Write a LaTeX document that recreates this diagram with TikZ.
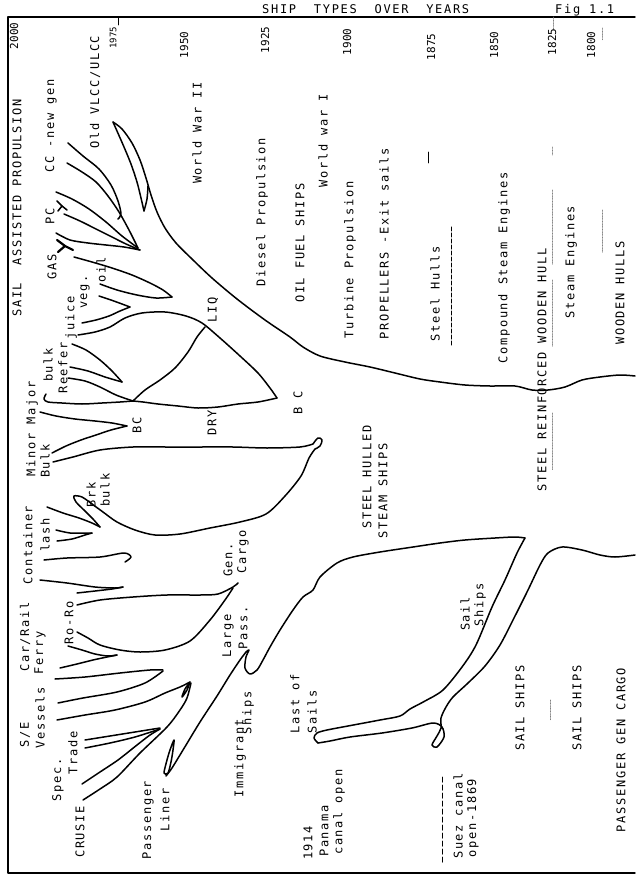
\documentclass[tikz,border=0pt]{standalone}
\usepackage{fontspec}
\newfontfamily\labfont[LetterSpace=14]{DejaVu Sans Mono}
\newfontfamily\yrfont{DejaVu Sans Mono}
\begin{document}
\begin{tikzpicture}[x=1pt,y=-1pt,line cap=round,line join=round,
  br/.style={line width=1.5pt},
  frame/.style={line width=1.4pt},
  lab/.style={rotate=90,inner sep=0pt,font=\labfont\fontsize{12}{13}\selectfont},
  yr/.style={rotate=90,inner sep=0pt,font=\yrfont\fontsize{11}{12}\selectfont},
  hdr/.style={inner sep=0pt,font=\labfont\fontsize{12}{13}\selectfont},
  faint/.style={gray,line width=0.6pt,densely dotted}]
\useasboundingbox (0,0) rectangle (635,877);
% frame
\draw[frame] (635,17) -- (8,17) -- (8,873) -- (635,873);
\node[hdr,anchor=base west] (title) at (262,14) {SHIP\ \ TYPES\ \ OVER\ \ YEARS};
\node[hdr,anchor=base west] (fig) at (555,14) {Fig 1.1};
\draw[line width=0.8pt] (118,17) -- (118,25);
% faint year guides
\draw[faint] (553,17) -- (553,30);
\draw[faint] (602,28) -- (602,40);
\draw[faint] (552,147) -- (552,155);
\draw[faint] (552,190) -- (552,265);
\draw[faint] (552,280) -- (552,347);
\draw[faint] (552,413) -- (552,470);
\draw[faint] (602,210) -- (602,253);
\draw[faint] (550,700) -- (550,720);
% years
\node[yr] (y2000) at (14,36) {2000};
\node[yr,font=\yrfont\fontsize{9}{10}\selectfont] (y1975) at (113,38) {1975};
\node[yr] (y1950) at (184,45) {1950};
\node[yr] (y1925) at (265,40) {1925};
\node[yr] (y1900) at (347,42) {1900};
\node[yr] (y1875) at (431,47) {1875};
\node[yr] (y1850) at (494,45) {1850};
\node[yr] (y1825) at (552,42) {1825};
\node[yr] (y1800) at (591,45) {1800};
% era labels
\node[lab] (sail) at (17,208) {SAIL\ \ ASSISTED PROPULSION};
\node[lab] (cc) at (51,126) {CC -new gen};
\node[lab] (pc) at (50,216) {PC};
\node[lab] (gas) at (52,267) {GAS};
\node[lab] (vlcc) at (95,92) {Old VLCC/ULCC};
\node[lab] (ww2) at (197,133) {World War II};
\node[lab] (diesel) at (262,212) {Diesel Propulsion};
\node[lab] (oil) at (300,243) {OIL FUEL SHIPS};
\node[lab] (ww1) at (323,141) {World war I};
\node[lab] (turb) at (350,260) {Turbine Propulsion};
\node[lab] (prop) at (384,244) {PROPELLERS -Exit sails};
\node[lab] (steelh) at (435,294) {Steel Hulls};
\node[lab] (comp) at (504,268) {Compound Steam Engines};
\node[lab] (srwh) at (542,370) {STEEL REINFORCED WOODEN HULL};
\node[lab] (steam) at (571,262) {Steam Engines};
\node[lab] (wood) at (620,293) {WOODEN HULLS};
\draw[line width=1pt,dash pattern=on 4pt off 2pt] (451,227) -- (451,345);
\draw[line width=0.9pt] (428,152) -- (428,163);
% branch labels
\node[lab] (veg) at (85,292) {veg.};
\node[lab] (oill) at (101,270) {oil};
\node[lab] (juice) at (71,318) {juice};
\node[lab] (reefer) at (63,368) {Reefer};
\node[lab] (majb) at (48,365) {bulk};
\node[lab] (minmaj) at (32,429) {Minor Major};
\node[lab] (minb) at (45,461) {Bulk};
\node[lab] (bc1) at (137,425) {BC};
\node[lab] (dry) at (212,423) {DRY};
\node[lab] (liq) at (213,310) {LIQ};
\node[lab] (bc2) at (298,403) {B C};
\node[lab] (shs1) at (367,477) {STEEL HULLED};
\node[lab] (shs2) at (383,491) {STEAM SHIPS};
\node[lab] (cont) at (28,545) {Container};
\node[lab] (lash) at (45,535) {lash};
\node[lab] (brk) at (91,495) {Brk};
\node[lab] (brkb) at (105,490) {bulk};
\node[lab] (gen) at (228,560) {Gen.};
\node[lab] (cargo) at (243,552) {Cargo};
\node[lab] (carrail) at (25,637) {Car/Rail};
\node[lab] (ferry) at (40,653) {Ferry};
\node[lab] (roro) at (69,623) {Ro-Ro};
\node[lab] (se) at (25,735) {S/E};
\node[lab] (vessels) at (40,718) {Vessels};
\node[lab] (spec) at (58,780) {Spec.};
\node[lab] (trade) at (73,753) {Trade};
\node[lab] (crusie) at (80,832) {CRUSIE};
\node[lab] (pass) at (148,820) {Passenger};
\node[lab] (liner) at (165,810) {Liner};
\node[lab] (large) at (228,636) {Large};
\node[lab] (passs) at (243,628) {Pass.};
\node[lab] (immi) at (240,758) {Immigrant};
\node[lab] (ships) at (248,713) {Ships};
\node[lab] (last) at (295,704) {Last of};
\node[lab] (sails) at (312,712) {Sails};
\node[lab] (y1914) at (308,843) {1914};
\node[lab] (panama) at (324,831) {Panama};
\node[lab] (canal) at (339,812) {canal open};
\node[lab] (suez) at (458,816) {Suez canal};
\node[lab] (open) at (473,818) {open-1869};
\draw[line width=1pt,dash pattern=on 5pt off 3pt] (442,777) -- (442,862);
\node[lab] (sailb1) at (465,614) {Sail};
\node[lab] (sailb2) at (480,605) {Ships};
\node[lab] (ss1) at (520,708) {SAIL SHIPS};
\node[lab] (ss2) at (577,708) {SAIL SHIPS};
\node[lab] (pgc) at (621,750) {PASSENGER GEN CARGO};
% ---------- tree ----------
\draw[br] plot[smooth,tension=0.5] coordinates {(635,376) (620,375) (600,377) (582,380) (565,387) (548,390) (532,390) (515,386) (490,386) (465,385) (440,382) (420,379) (395,373) (370,367) (345,362) (320,356) (303,347) (290,337) (265,320) (237,299) (212,278) (192,259) (176,243) (165,228) (157,212) (151,195) (146,178) (140,160) (132,143) (122,129) (113,122)};
\draw[br] plot[smooth,tension=0.5] coordinates {(113,122) (117,131) (124,147) (131,164) (137,182) (141,198) (144,211)};
\draw[br] plot[smooth,tension=0.5] coordinates {(144,211) (147,199) (148,186)};
\draw[br] plot[smooth,tension=0.5] coordinates {(68,143) (83,156) (99,169) (111,185) (118,201) (121,214) (118,219)};
\draw[br] plot[smooth,tension=0.5] coordinates {(67,163) (82,172) (96,182) (108,196) (119,212) (129,230) (138,248)};
\draw[br] plot[smooth,tension=0.5] coordinates {(56,192) (72,199) (89,209) (106,222) (122,236) (138,248)};
\draw[br] (57,201) -- (62,206) -- (58,211);
\draw[br] (62,206) -- (67,210);
\draw[br] plot[smooth,tension=0.5] coordinates {(64,214) (80,221) (96,229) (112,237) (126,244) (140,250)};
\draw[br] plot[smooth,tension=0.5] coordinates {(56,233) (70,240) (88,243) (106,245) (124,247) (140,250)};
\draw[br,line width=2.2pt] (57,240) -- (65,246) -- (58,252);
\draw[br,line width=2.2pt] (65,246) -- (73,250);
\draw[br] plot[smooth,tension=0.5] coordinates {(74,257) (92,262) (112,268) (132,275) (150,283) (163,290) (172,297)};
\draw[br] plot[smooth,tension=0.5] coordinates {(100,284) (117,290) (137,295) (156,298) (172,297)};
\draw[br] plot[smooth,tension=0.5] coordinates {(99,296) (111,300) (122,304) (130,307)};
\draw[br] plot[smooth,tension=0.5] coordinates {(82,323) (96,320) (109,316) (120,311) (130,307)};
\draw[br] plot[smooth,tension=0.5] coordinates {(78,335) (95,332) (110,327) (125,318) (142,313) (165,312) (186,316) (202,323) (220,338) (240,356) (258,373) (270,388) (277,398)};
\draw[br] plot[smooth,tension=0.5] coordinates {(277,398) (258,402) (238,404) (218,407) (198,408) (178,406) (158,404) (143,402) (133,401)};
\draw[br] plot[smooth,tension=0.5] coordinates {(133,401) (145,390) (160,380) (175,368) (188,352) (197,337) (205,327)};
\draw[br] plot[smooth,tension=0.5] coordinates {(68,378) (85,381) (100,387) (116,395) (133,401)};
\draw[br] plot[smooth,tension=0.5] coordinates {(46,394) (44,399) (48,402) (62,403) (82,404) (102,403) (120,402) (133,401)};
\draw[br] plot[smooth,tension=0.5] coordinates {(72,344) (86,350) (100,360) (112,371) (122,382)};
\draw[br] plot[smooth,tension=0.5] coordinates {(70,367) (88,371) (105,377) (122,382)};
\draw[br] plot[smooth,tension=0.5] coordinates {(40,412) (56,416) (75,419) (95,421) (112,423) (127,426)};
\draw[br] plot[smooth,tension=0.5] coordinates {(52,453) (66,446) (81,440) (96,435) (111,430) (127,426)};
\draw[br] plot[smooth,tension=0.5] coordinates {(53,462) (73,457) (100,450) (133,447) (166,447) (200,447) (233,447) (267,448) (300,447) (313,444)};
\draw[br] plot[smooth,tension=0.6] coordinates {(313,444) (318,438) (322,440) (320,446) (315,449)};
\draw[br] plot[smooth,tension=0.5] coordinates {(315,449) (309,458) (301,476) (285,496) (266,514) (240,522) (210,528) (180,534) (155,535) (135,530) (117,522) (103,512) (92,504)};
\draw[br] plot[smooth,tension=0.5] coordinates {(92,504) (82,497) (74,496) (76,502) (85,511) (93,519) (100,527)};
\draw[br] plot[smooth,tension=0.5] coordinates {(47,507) (63,513) (79,518) (92,523) (100,527)};
\draw[br] plot[smooth,tension=0.5] coordinates {(56,530) (70,533) (84,533) (92,533)};
\draw[br] plot[smooth,tension=0.5] coordinates {(57,541) (72,539) (85,535) (92,533)};
\draw[br] plot[smooth,tension=0.5] coordinates {(44,560) (67,558) (100,557) (124,553) (131,557) (125,562)};
\draw[br] plot[smooth,tension=0.5] coordinates {(40,580) (67,583) (95,587) (115,588) (123,587)};
\draw[br] plot[smooth,tension=0.5] coordinates {(77,593) (95,591) (112,589) (123,587)};
\draw[br] plot[smooth,tension=0.5] coordinates {(77,605) (100,600) (133,597) (167,595) (200,595) (218,594) (233,587) (238,583)};
\draw[br] plot[smooth,tension=0.5] coordinates {(77,632) (88,638) (100,645) (120,650) (140,652) (165,650) (190,641) (210,620) (225,600) (233,588)};
\draw[br] plot[smooth,tension=0.5] coordinates {(68,646) (82,650) (95,654) (108,656) (117,655)};
\draw[br] plot[smooth,tension=0.5] coordinates {(60,668) (77,664) (93,660) (107,657) (117,655)};
\draw[br] plot[smooth,tension=0.5] coordinates {(55,679) (85,677) (120,673) (150,670) (163,670)};
\draw[br] plot[smooth,tension=0.5] coordinates {(58,703) (83,698) (117,692) (145,683) (163,671)};
\draw[br] plot[smooth,tension=0.5] coordinates {(57,720) (85,715) (115,710) (145,702) (165,693) (180,687) (190,682)};
\draw[br] plot[smooth,tension=0.5] coordinates {(190,682) (187,690) (182,697) (185,689) (190,682)};
\draw[br] plot[smooth,tension=0.5] coordinates {(83,800) (100,789) (117,777) (140,753) (167,727) (180,710) (187,698) (191,683)};
\draw[br] plot[smooth,tension=0.5] coordinates {(85,740) (110,736) (135,732) (160,728)};
\draw[br] plot[smooth,tension=0.5] coordinates {(85,748) (110,743) (135,737) (160,729)};
\draw[br] plot[smooth,tension=0.5] coordinates {(82,784) (100,772) (118,760) (137,745) (150,735) (160,729)};
\draw[br] plot[smooth cycle,tension=0.5] coordinates {(164,773) (167,760) (170,750) (174,740) (173,750) (171,762) (168,773)};
\draw[br] plot[smooth,tension=0.5] coordinates {(166,776) (172,768) (183,750) (200,722) (217,696) (230,675) (240,660) (246,652)};
\draw[br] plot[smooth,tension=0.5] coordinates {(246,652) (249,650) (246,657) (245,668) (250,674) (257,670) (263,660) (270,647) (280,630) (293,610) (303,597) (313,590) (320,577) (337,563) (353,557) (380,552) (413,547) (440,543) (465,540) (495,538) (515,537) (525,538)};
\draw[br] plot[smooth,tension=0.5] coordinates {(525,538) (517,553) (505,580) (492,607) (476,645) (462,667) (443,690) (425,701) (410,709) (400,716) (380,720) (348,726) (327,730) (317,733) (314,738) (318,743)};
\draw[br] plot[smooth,tension=0.5] coordinates {(318,743) (330,741) (350,737) (382,733) (412,728) (433,723) (442,727) (444,737) (437,747) (432,745) (437,736) (441,728) (441,718) (446,707) (453,697) (468,683) (485,666) (500,645) (514,618) (528,590) (540,565) (548,553) (562,547) (582,550) (600,555) (615,557) (635,555)};
\end{tikzpicture}
\end{document}
